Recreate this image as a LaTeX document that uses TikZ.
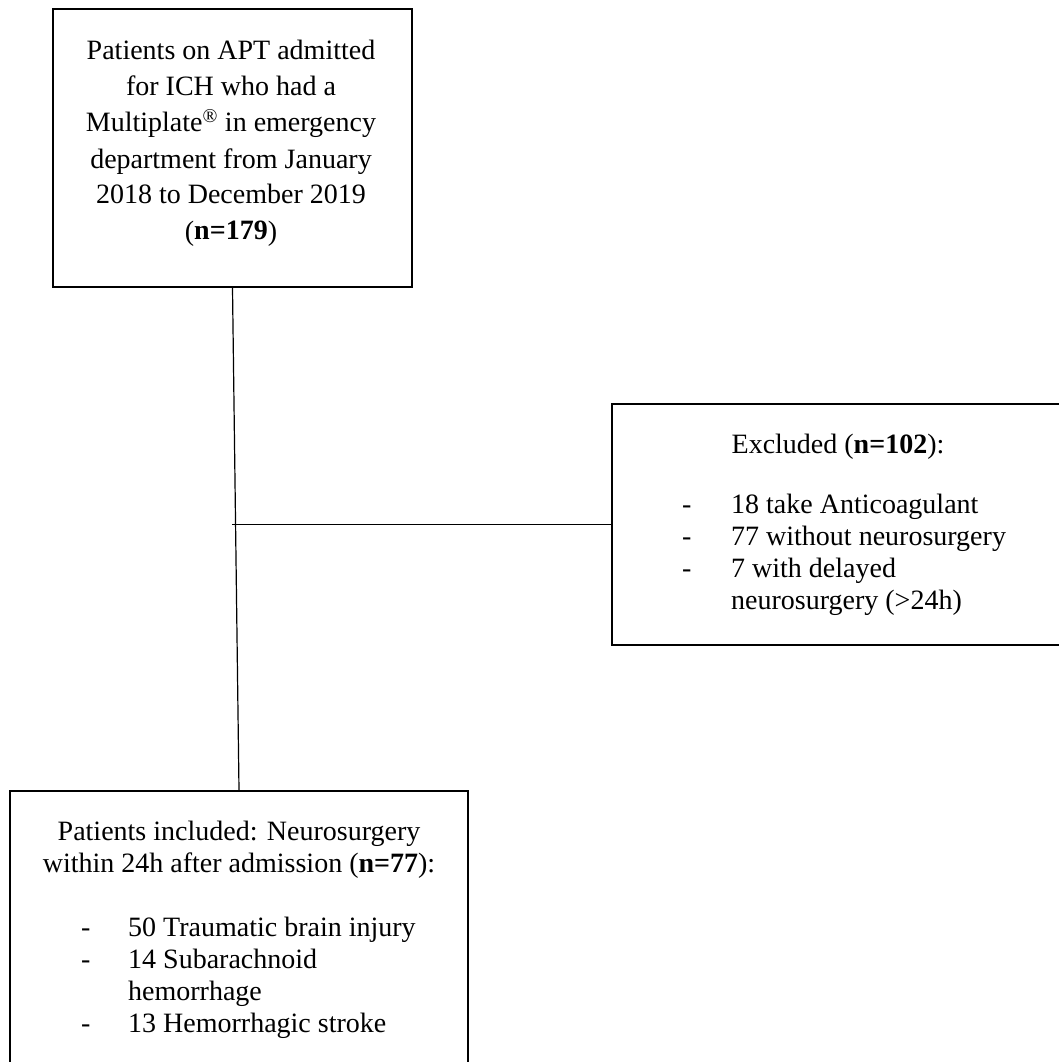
\documentclass[tikz,border=0pt]{standalone}
\usepackage{fontspec}
\setmainfont{Liberation Serif}
\begin{document}
\begin{tikzpicture}[x=1pt,y=-1pt,
  box/.style={draw=black, line width=2pt, inner sep=0pt},
  txt/.style={inner sep=0pt, font=\fontsize{28}{32}\selectfont},
  toptxt/.style={inner sep=0pt, font=\fontsize{28}{36}\selectfont},
  conn/.style={draw=black, line width=1.4pt}]
\useasboundingbox (0,0) rectangle (1059,1062);
\fill[white] (0,0) rectangle (1059,1062);
\clip (0,0) rectangle (1059,1062);
% boxes
\node[box, minimum width=359pt, minimum height=278pt] (top) at (232.5,148) {};
\node[box, minimum width=452pt, minimum height=241pt] (excl) at (838,524.5) {};
\node[box, minimum width=458pt, minimum height=290pt] (incl) at (239,936) {};
% texts
\node[toptxt, anchor=base] (toptext) at (231,60) {\begin{tabular}[t]{@{}c@{}}Patients on APT admitted\\ for ICH who had a\\ Multiplate\textsuperscript{®} in emergency\\ department from January\\ 2018 to December 2019\\ (\textbf{n=179})\end{tabular}};
\node[txt, anchor=base] (excltitle) at (838,453) {Excluded (\textbf{n=102}):};
\node[txt, anchor=base west] (excllist) at (682,513) {\begin{tabular}[t]{@{}p{49pt}@{}l@{}}-& 18 take Anticoagulant\\ -& 77 without neurosurgery\\ -& 7 with delayed\\ & neurosurgery (>24h)\end{tabular}};
\node[txt, anchor=base] (incltitle) at (239,840) {\begin{tabular}[t]{@{}c@{}}Patients included: Neurosurgery\\ within 24h after admission (\textbf{n=77}):\end{tabular}};
\node[txt, anchor=base west] (incllist) at (81,936) {\begin{tabular}[t]{@{}p{47pt}@{}l@{}}-& 50 Traumatic brain injury\\ -& 14 Subarachnoid\\ & hemorrhage\\ -& 13 Hemorrhagic stroke\end{tabular}};
% connectors
\draw[conn, line width=1.2pt] (top.south) -- (incl.north);
\coordinate (junction) at (232,524.5);
\draw[conn] (junction) -- (excl.west);
\end{tikzpicture}
\end{document}
